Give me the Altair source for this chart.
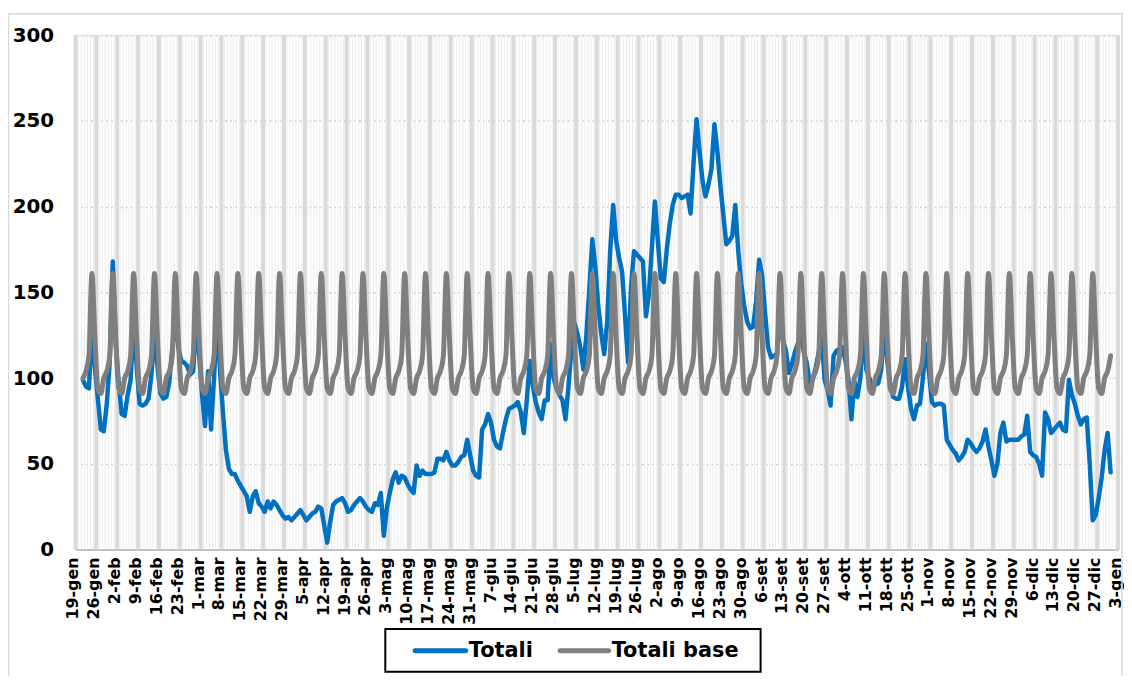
import altair as alt
import pandas as pd

# Weekly tick labels (first one = 19-gen, day 0 of the axis)
tick_labels = [
    "19-gen", "26-gen", "2-feb", "9-feb", "16-feb", "23-feb", "1-mar", "8-mar",
    "15-mar", "22-mar", "29-mar", "5-apr", "12-apr", "19-apr", "26-apr", "3-mag",
    "10-mag", "17-mag", "24-mag", "31-mag", "7-giu", "14-giu", "21-giu", "28-giu",
    "5-lug", "12-lug", "19-lug", "26-lug", "2-ago", "9-ago", "16-ago", "23-ago",
    "30-ago", "6-set", "13-set", "20-set", "27-set", "4-ott", "11-ott", "18-ott",
    "25-ott", "1-nov", "8-nov", "15-nov", "22-nov", "29-nov", "6-dic", "13-dic",
    "20-dic", "27-dic", "3-gen",
]
tick_days = [7 * i for i in range(len(tick_labels))]

# first data point is 21-gen (2 days after the first tick)
first_day = 2

# Daily values, 21-gen .. 31-dic
totali = [
    99, 95, 94, 130, 106, 88, 70, 69, 85, 110,
    168, 120, 97, 79, 78, 90, 99, 132, 108, 85,
    84, 85, 88, 102, 128, 107, 91, 88, 89, 98,
    118, 135, 118, 110, 109, 107, 102, 104, 130, 114,
    90, 72, 104, 70, 100, 135, 105, 80, 58, 47,
    44, 44, 40, 37, 34, 31, 22, 31, 34, 27,
    25, 22, 28, 24, 28, 26, 23, 20, 18, 19,
    17, 19, 21, 23, 20, 17, 19, 21, 22, 25,
    24, 14, 4, 16, 26, 28, 29, 30, 27, 22,
    23, 26, 28, 30, 28, 25, 23, 22, 27, 26,
    33, 8, 24, 33, 41, 45, 39, 43, 42, 38,
    35, 33, 49, 43, 46, 44, 44, 44, 45, 53,
    53, 52, 57, 52, 49, 49, 51, 54, 55, 64,
    55, 46, 43, 42, 70, 73, 79, 74, 64, 60,
    59, 68, 76, 82, 83, 84, 86, 80, 68, 87,
    110, 96, 86, 80, 76, 87, 87, 120, 100, 94,
    90, 87, 76, 95, 118, 132, 126, 118, 105, 125,
    152, 181, 165, 142, 126, 114, 133, 174, 201, 180,
    170, 162, 136, 109, 153, 174, 172, 170, 168, 136,
    149, 176, 203, 180, 158, 156, 175, 190, 201, 207,
    207, 205, 206, 207, 196, 226, 251, 232, 215, 206,
    213, 222, 248, 232, 212, 195, 178, 180, 183, 201,
    174, 155, 142, 133, 129, 130, 145, 169, 160, 138,
    118, 112, 113, 114, 140, 122, 116, 103, 108, 115,
    120, 127, 115, 109, 97, 99, 106, 115, 124, 99,
    93, 84, 113, 116, 117, 118, 110, 99, 76, 98,
    89, 100, 130, 105, 100, 95, 96, 97, 105, 132,
    110, 97, 89, 88, 88, 95, 111, 95, 82, 76,
    84, 85, 100, 120, 104, 86, 84, 85, 85, 84,
    64, 61, 58, 56, 52, 54, 57, 64, 62, 59,
    57, 59, 63, 70, 60, 52, 43, 50, 68, 74,
    63, 64, 64, 64, 64, 66, 67, 78, 57, 55,
    54, 50, 43, 80, 76, 68, 70, 72, 74, 70,
    69, 99, 90, 85, 78, 73, 76, 77, 50, 17,
    20, 30, 42, 58, 68, 45,
]

# "Totali base" repeats the same weekly profile (starting on 21-gen)
base_week = [100, 104, 113, 161, 124, 94, 91]
totali_base = [base_week[i % 7] for i in range(len(totali))]

series_names = ["Totali", "Totali base"]
series_colors = ["#0070C0", "#7F7F7F"]

days = [first_day + i + 0.5 for i in range(len(totali))]
df = pd.DataFrame({
    "day": days * 2,
    "value": totali + totali_base,
    "series": [series_names[0]] * len(totali) + [series_names[1]] * len(totali),
})
ticks_df = pd.DataFrame({"d": tick_days, "label": tick_labels})

FONT = "DejaVu Sans"
W, H = 1050, 518

x_scale = alt.Scale(domain=[0, 350], nice=False, zero=False)
y_scale = alt.Scale(domain=[0, 300], nice=False)
color_scale = alt.Scale(domain=series_names, range=series_colors)

x_axis = alt.Axis(
    values=tick_days, labels=False, ticks=False, grid=False,
    domainColor="#bfbfbf", domainWidth=2, title=None,
)
y_axis = alt.Axis(
    values=[0, 50, 100, 150, 200, 250, 300], labelFont=FONT, labelFontSize=20,
    labelFontWeight="bold", labelColor="black", labelPadding=22, ticks=False,
    grid=True, gridColor="#c8c8c8", gridDash=[2, 3], gridWidth=1.5,
    domainColor="#bfbfbf", domainWidth=2, title=None,
)

X = alt.X("d:Q", scale=x_scale, axis=x_axis)

minor = alt.Chart(alt.sequence(0, 351, as_="d")).transform_filter(
    "datum.d % 7 != 0"
).mark_rule(color="#ececec", strokeWidth=1).encode(x=X)
major = alt.Chart(ticks_df).mark_rule(color="#dadada", strokeWidth=4).encode(x=X)

# x tick labels, rotated to read bottom-to-top
xlabels = alt.Chart(ticks_df).mark_text(
    angle=270, align="right", baseline="middle", font=FONT, fontSize=16,
    fontWeight="bold", color="black", dx=-8, dy=-2
).encode(x=X, y=alt.value(H), text="label:N")

blue = alt.Chart(df).transform_filter("datum.series == 'Totali'").mark_line(
    strokeWidth=4.5, strokeCap="round", strokeJoin="round"
).encode(
    x=alt.X("day:Q", scale=x_scale, axis=x_axis),
    y=alt.Y("value:Q", scale=y_scale, axis=y_axis),
    color=alt.Color("series:N", scale=color_scale, legend=None),
)
gray = alt.Chart(df).transform_filter("datum.series == 'Totali base'").mark_line(
    strokeWidth=5, strokeCap="round", strokeJoin="round", interpolate="monotone"
).encode(
    x=alt.X("day:Q", scale=x_scale, axis=x_axis),
    y=alt.Y("value:Q", scale=y_scale, axis=y_axis),
    color=alt.Color("series:N", scale=color_scale, legend=None),
)

one = pd.DataFrame({"a": [0]})

frame = alt.Chart(one).mark_rect(
    filled=False, stroke="#d9d9d9", strokeWidth=1.5
).encode(
    x=alt.value(-67.5), x2=alt.value(1054), y=alt.value(-21.5), y2=alt.value(700)
)

# manual legend (box, line symbols, labels), positioned below the plot
leg_box = alt.Chart(one).mark_rect(
    filled=False, stroke="black", strokeWidth=2
).encode(x=alt.value(312), x2=alt.value(690), y=alt.value(598), y2=alt.value(641))
leg_blue = alt.Chart(one).mark_rule(
    color=series_colors[0], strokeWidth=5, strokeCap="round"
).encode(x=alt.value(342), x2=alt.value(393), y=alt.value(620))
leg_gray = alt.Chart(one).mark_rule(
    color=series_colors[1], strokeWidth=5, strokeCap="round"
).encode(x=alt.value(488), x2=alt.value(537), y=alt.value(620))
leg_t1 = alt.Chart(one).mark_text(
    text=series_names[0], font=FONT, fontSize=21, fontWeight="bold",
    align="left", baseline="middle", color="black"
).encode(x=alt.value(396), y=alt.value(620))
leg_t2 = alt.Chart(one).mark_text(
    text=series_names[1], font=FONT, fontSize=21, fontWeight="bold",
    align="left", baseline="middle", color="black"
).encode(x=alt.value(540), y=alt.value(620))

chart = alt.layer(
    minor, major, blue, gray, xlabels, frame, leg_box, leg_blue, leg_gray,
    leg_t1, leg_t2
).properties(
    width=W, height=H,
    autosize=alt.AutoSizeParams(type="none"),
    padding={"left": 68, "top": 25, "right": 6, "bottom": 125},
).configure_view(stroke="#bfbfbf", strokeWidth=1.5).configure(background="white")

chart.save("out.html", embed_options={"renderer": "svg", "actions": False})
